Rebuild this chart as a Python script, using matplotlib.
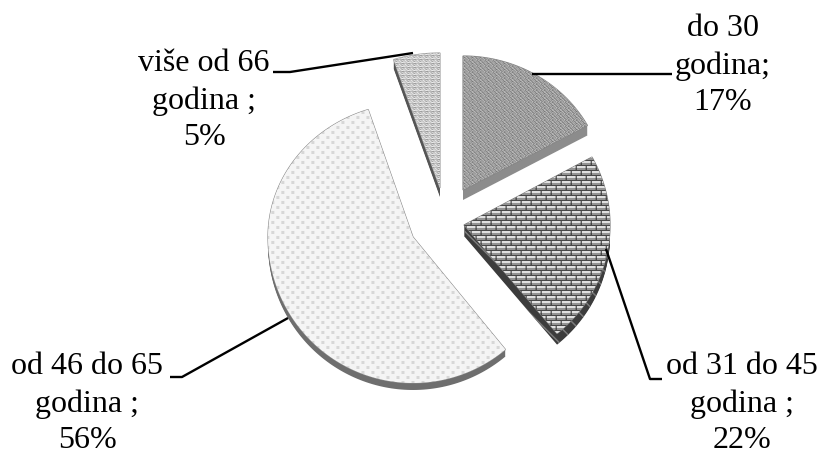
import matplotlib
matplotlib.use('Agg')

from matplotlib import pyplot as plt
from matplotlib.patches import Polygon
import numpy as np

plt.rcParams['font.family'] = ['Liberation Serif', 'DejaVu Serif']

# data
categories = ['do 30\ngodina;', 'od 31 do 45\ngodina ;', 'od 46 do 65\ngodina ;', 'više od 66\ngodina ;']
shares = [17, 22, 56, 5]

# exploded 3D look, pixels of the picture: centre of each slice,
# radii (across, back, front), thickness
centers = [(463, 190), (464, 225), (413, 237), (440, 188)]
radii = [(142, 134, 134), (146, 141, 141), (145, 134, 146), (150, 135, 135)]
depths = [10, 11, 7, 9]
side_colors = ['#8c8c8c', '#3c3c3c', '#6e6e6e', '#555555']
side_hatch = [None, '\\\\', None, None]
edge_colors = ['#808080', '#777777', '#888888', '#999999']
label_pos = [(723, 110), (742, 448), (87, 448), (204, 145)]
leaders = [
    [(532, 74), (672, 74)],
    [(606, 249), (650, 379), (662, 379)],
    [(288, 318), (182, 377), (170, 377)],
    [(413, 53), (290, 72), (273, 72)],
]


def tile_weave():
    t = np.array([
        [.50, .72, .56, .78, .46, .66, .75, .50],
        [.68, .46, .78, .50, .72, .50, .56, .75],
        [.78, .58, .46, .72, .56, .78, .46, .64],
        [.50, .78, .66, .46, .75, .58, .70, .46],
        [.68, .50, .78, .58, .46, .75, .50, .70],
        [.56, .72, .48, .78, .66, .46, .75, .56],
    ])
    return t


def tile_brick():
    t = np.full((10, 10), .88)
    t[0, :] = .28
    t[5, :] = .28
    t[3:5, :] = .58
    t[8:10, :] = .58
    t[1:5, 0] = .15
    t[6:10, 5] = .15
    return t


def tile_dots():
    t = np.full((10, 10), .96)
    t[1:4, 1:4] = .84
    t[6:9, 6:9] = .84
    return t


def tile_zigzag():
    t = np.array([
        [.85, .70, .85, .95, .60, .85],
        [.70, .90, .70, .85, .90, .60],
        [.95, .80, .95, .70, .85, .90],
        [.40, .85, .60, .90, .55, .85],
    ])
    return t


tiles = [tile_weave(), tile_brick(), tile_dots(), tile_zigzag()]

W, H = 822, 455
fig = plt.figure(figsize=(W / 100, H / 100), dpi=100)
ax = fig.add_axes([0, 0, 1, 1])
ax.set_xlim(0, W)
ax.set_ylim(H, 0)
ax.axis('off')

fracs = np.array(shares) / sum(shares)
starts = np.concatenate([[0], np.cumsum(fracs)[:-1]]) * 2 * np.pi
ends = np.cumsum(fracs) * 2 * np.pi

for i in range(len(shares)):
    t = np.linspace(starts[i], ends[i], 160)
    cx, cy = centers[i]
    a, b_back, b_front = radii[i]
    b = np.where(np.cos(t) > 0, b_back, b_front)
    xs = np.concatenate([[cx], cx + a * np.sin(t)])
    ys = np.concatenate([[cy], cy - b * np.cos(t)])

    # side of the slice
    for d in np.arange(depths[i], 0, -1):
        ax.fill(xs, ys + d, facecolor=side_colors[i], edgecolor='#909090' if side_hatch[i] else 'none',
                hatch=side_hatch[i], lw=0, zorder=2)

    # top of the slice, filled with its pattern
    face = Polygon(np.column_stack([xs, ys]), closed=True, facecolor='white',
                   edgecolor=edge_colors[i], lw=0.8, zorder=3)
    ax.add_patch(face)
    ny = H // tiles[i].shape[0] + 1
    nx = W // tiles[i].shape[1] + 1
    im = ax.imshow(np.tile(tiles[i], (ny, nx)), cmap='gray', vmin=0, vmax=1,
                   extent=(0, nx * tiles[i].shape[1], ny * tiles[i].shape[0], 0),
                   interpolation='bilinear', aspect='auto', zorder=3.5)
    im.set_clip_path(face)

ax.set_xlim(0, W)
ax.set_ylim(H, 0)

for i, pts in enumerate(leaders):
    px, py = zip(*pts)
    ax.plot(px, py, color='black', lw=1.7, zorder=5, solid_capstyle='butt')
    ax.text(label_pos[i][0], label_pos[i][1], f'{categories[i]}\n{shares[i]}%',
            ha='center', va='baseline', fontsize=23, linespacing=1.34, color='black', zorder=6)

plt.savefig('out.png', dpi=100)
plt.close()
